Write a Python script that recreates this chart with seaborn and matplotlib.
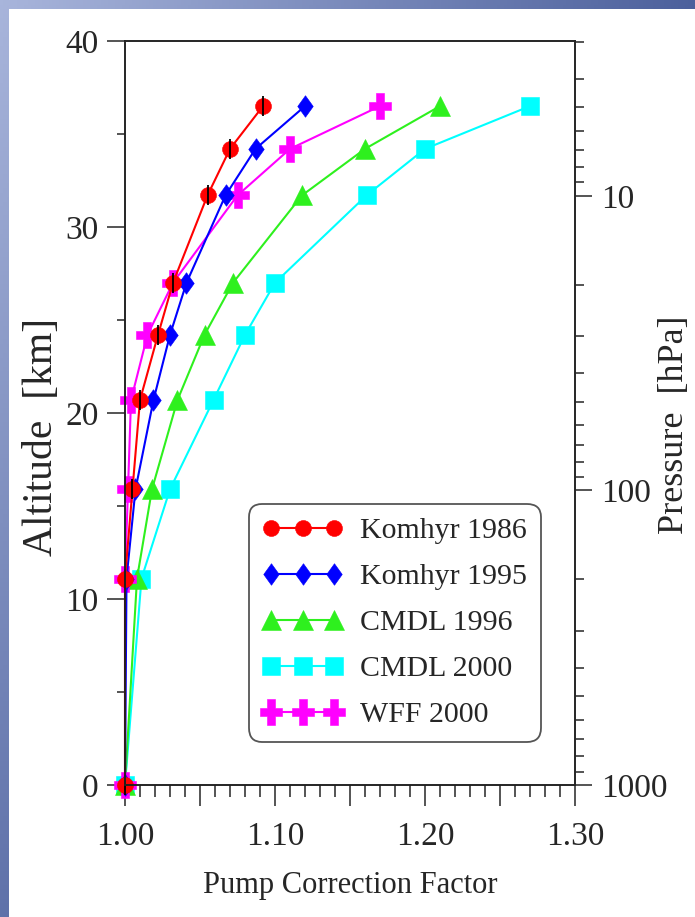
import numpy as np
import pandas as pd
import matplotlib
matplotlib.use("Agg")
import matplotlib.pyplot as plt
from matplotlib.lines import Line2D
from matplotlib.patches import Rectangle
from matplotlib.ticker import FixedLocator, LogLocator, NullFormatter
import seaborn as sns

# ---------------- data ----------------
altitude_km = [0.0, 11.1, 15.9, 20.7, 24.2, 27.0, 31.7, 34.2, 36.5]
komhyr_1986 = [1.000, 1.000, 1.005, 1.010, 1.022, 1.032, 1.055, 1.070, 1.092]
komhyr_1995 = [1.000, 1.001, 1.007, 1.019, 1.030, 1.041, 1.067, 1.087, 1.120]
cmdl_1996 = [1.000, 1.008, 1.018, 1.035, 1.053, 1.072, 1.118, 1.160, 1.210]
cmdl_2000 = [1.000, 1.011, 1.030, 1.059, 1.080, 1.100, 1.161, 1.200, 1.270]
wff_2000 = [1.000, 1.000, 1.002, 1.004, 1.015, 1.032, 1.075, 1.110, 1.170]

series_names = ["Komhyr 1986", "Komhyr 1995", "CMDL 1996", "CMDL 2000", "WFF 2000"]
series_values = [komhyr_1986, komhyr_1995, cmdl_1996, cmdl_2000, wff_2000]

x_major_ticks = [1.00, 1.05, 1.10, 1.15, 1.20, 1.25, 1.30]
x_tick_labels = ["1.00", "", "1.10", "", "1.20", "", "1.30"]
y_major_ticks = [0, 10, 20, 30, 40]
y_minor_ticks = [5, 15, 25, 35]
p_major_ticks = [10, 100, 1000]
p_tick_labels = ["10", "100", "1000"]

# ---------------- styles ----------------
diamond = [(0, 1), (0.72, 0), (0, -1), (-0.72, 0), (0, 1)]
plus = [(-0.3, 1), (0.3, 1), (0.3, 0.3), (0.81, 0.3), (0.81, -0.3), (0.3, -0.3),
        (0.3, -1), (-0.3, -1), (-0.3, -0.3), (-0.81, -0.3), (-0.81, 0.3),
        (-0.3, 0.3), (-0.3, 1)]
styles = {
    "Komhyr 1986": dict(color="#ff0000", marker="o", ms=11.5),
    "Komhyr 1995": dict(color="#0000ff", marker=diamond, ms=15.5),
    "CMDL 1996": dict(color="#2ef01e", marker="^", ms=14),
    "CMDL 2000": dict(color="#00ffff", marker="s", ms=13.5),
    "WFF 2000": dict(color="#ff00ff", marker=plus, ms=19),
}
draw_order = ["CMDL 2000", "CMDL 1996", "WFF 2000", "Komhyr 1995", "Komhyr 1986"]

sns.set_theme(style="ticks")
plt.rcParams["font.family"] = ["Liberation Serif", "DejaVu Serif"]
plt.rcParams["axes.linewidth"] = 1.1
plt.rcParams["xtick.major.width"] = 1.1
plt.rcParams["ytick.major.width"] = 1.1
plt.rcParams["xtick.minor.width"] = 1.1
plt.rcParams["ytick.minor.width"] = 1.1

W, H = 695, 917
fig = plt.figure(figsize=(W / 100, H / 100), dpi=100)
fig.patch.set_facecolor("white")

# background gradient frame (row 0 = top of the figure)
bg = fig.add_axes([0, 0, 1, 1], zorder=-10)
gy, gx = np.mgrid[0:1:200j, 0:1:200j]
u = np.clip(gx * 0.95 + gy * 0.75, 0, 1)
light = np.array([0.66, 0.71, 0.86])
dark = np.array([0.28, 0.36, 0.60])
img = light[None, None, :] * (1 - u[..., None]) + dark[None, None, :] * u[..., None]
bg.imshow(img, extent=[0, 1, 0, 1], origin="upper", aspect="auto")
bg.add_patch(Rectangle((9 / W, 0), 1, 1 - 9 / H, transform=bg.transAxes,
                       facecolor="white", edgecolor="none"))
bg.set_xlim(0, 1)
bg.set_ylim(0, 1)
bg.axis("off")

left, right, bottom, top = 125, 575, 785, 41
ax = fig.add_axes([left / W, 1 - bottom / H, (right - left) / W, (bottom - top) / H])
ax.set_facecolor("white")

frames = []
for name, vals in zip(series_names, series_values):
    frames.append(pd.DataFrame({"factor": vals, "altitude": altitude_km, "series": name}))
df = pd.concat(frames, ignore_index=True)

for name in draw_order:
    st = styles[name]
    sub = df[df["series"] == name]
    sns.lineplot(data=sub, x="factor", y="altitude", ax=ax, orient="y", sort=False,
                 estimator=None, color=st["color"], marker=st["marker"],
                 markersize=st["ms"], markeredgecolor=st["color"], markeredgewidth=0.4,
                 linewidth=1.5, clip_on=False, legend=False)
    if name == "Komhyr 1986":
        ax.plot(sub["factor"], sub["altitude"], linestyle="none", marker="|",
                markersize=15, markeredgewidth=1.3, color="black", clip_on=False)

ax.set_xlim(1.0, 1.3)
ax.set_ylim(0, 40)
ax.set_xticks(x_major_ticks, labels=x_tick_labels)
ax.xaxis.set_minor_locator(FixedLocator(np.round(np.arange(1.0, 1.3001, 0.01), 3)))
ax.set_yticks(y_major_ticks)
ax.set_yticks(y_minor_ticks, minor=True)
ax.tick_params(axis="x", which="major", direction="out", length=15, pad=11, labelsize=24,
               top=False)
ax.tick_params(axis="x", which="minor", direction="out", length=8.5, top=False)
ax.tick_params(axis="y", which="major", direction="out", length=13, pad=6, labelsize=24,
               right=False)
ax.tick_params(axis="y", which="minor", direction="out", length=6, right=False)
for s in ax.spines.values():
    s.set_visible(True)
    s.set_color("black")

ax.set_xlabel("Pump Correction Factor", fontsize=22, labelpad=14)
ax.set_ylabel("Altitude  [km]", fontsize=30)
ax.yaxis.label.set_va("center")
ax.yaxis.set_label_coords((42 - left) / (right - left), (bottom - 437) / (bottom - top))

ax2 = ax.twinx()
ax2.set_yscale("log")
ax2.set_ylim(1000, 2.98)
ax2.set_yticks(p_major_ticks, labels=p_tick_labels)
ax2.yaxis.set_minor_locator(LogLocator(base=10, subs=np.arange(2, 10), numticks=30))
ax2.yaxis.set_minor_formatter(NullFormatter())
ax2.tick_params(axis="y", which="major", direction="out", length=12, pad=7, labelsize=24)
ax2.tick_params(axis="y", which="minor", direction="out", length=6.5)
ax2.set_ylabel("Pressure  [hPa]", fontsize=26)
ax2.yaxis.label.set_va("center")
ax2.yaxis.set_label_coords((675 - left) / (right - left), (bottom - 425) / (bottom - top))
ax2.patch.set_visible(False)

handles = [Line2D([], [], color=styles[n]["color"], marker=styles[n]["marker"],
                  markersize=styles[n]["ms"], markeredgecolor=styles[n]["color"],
                  markeredgewidth=0.4, linewidth=1.5) for n in series_names]
leg = ax2.legend(handles, series_names, numpoints=3, loc="upper left",
                 bbox_to_anchor=(249 / W, 1 - 504 / H), bbox_transform=fig.transFigure,
                 borderaxespad=0, fontsize=21.5, handlelength=2.7, handletextpad=0.58,
                 borderpad=0.45, labelspacing=0.64, frameon=True, fancybox=True,
                 framealpha=1)
frame = leg.get_frame()
frame.set_edgecolor("#555555")
frame.set_linewidth(1.3)
frame.set_boxstyle("round", pad=0, rounding_size=0.45)

fig.savefig("out.png", dpi=100)
